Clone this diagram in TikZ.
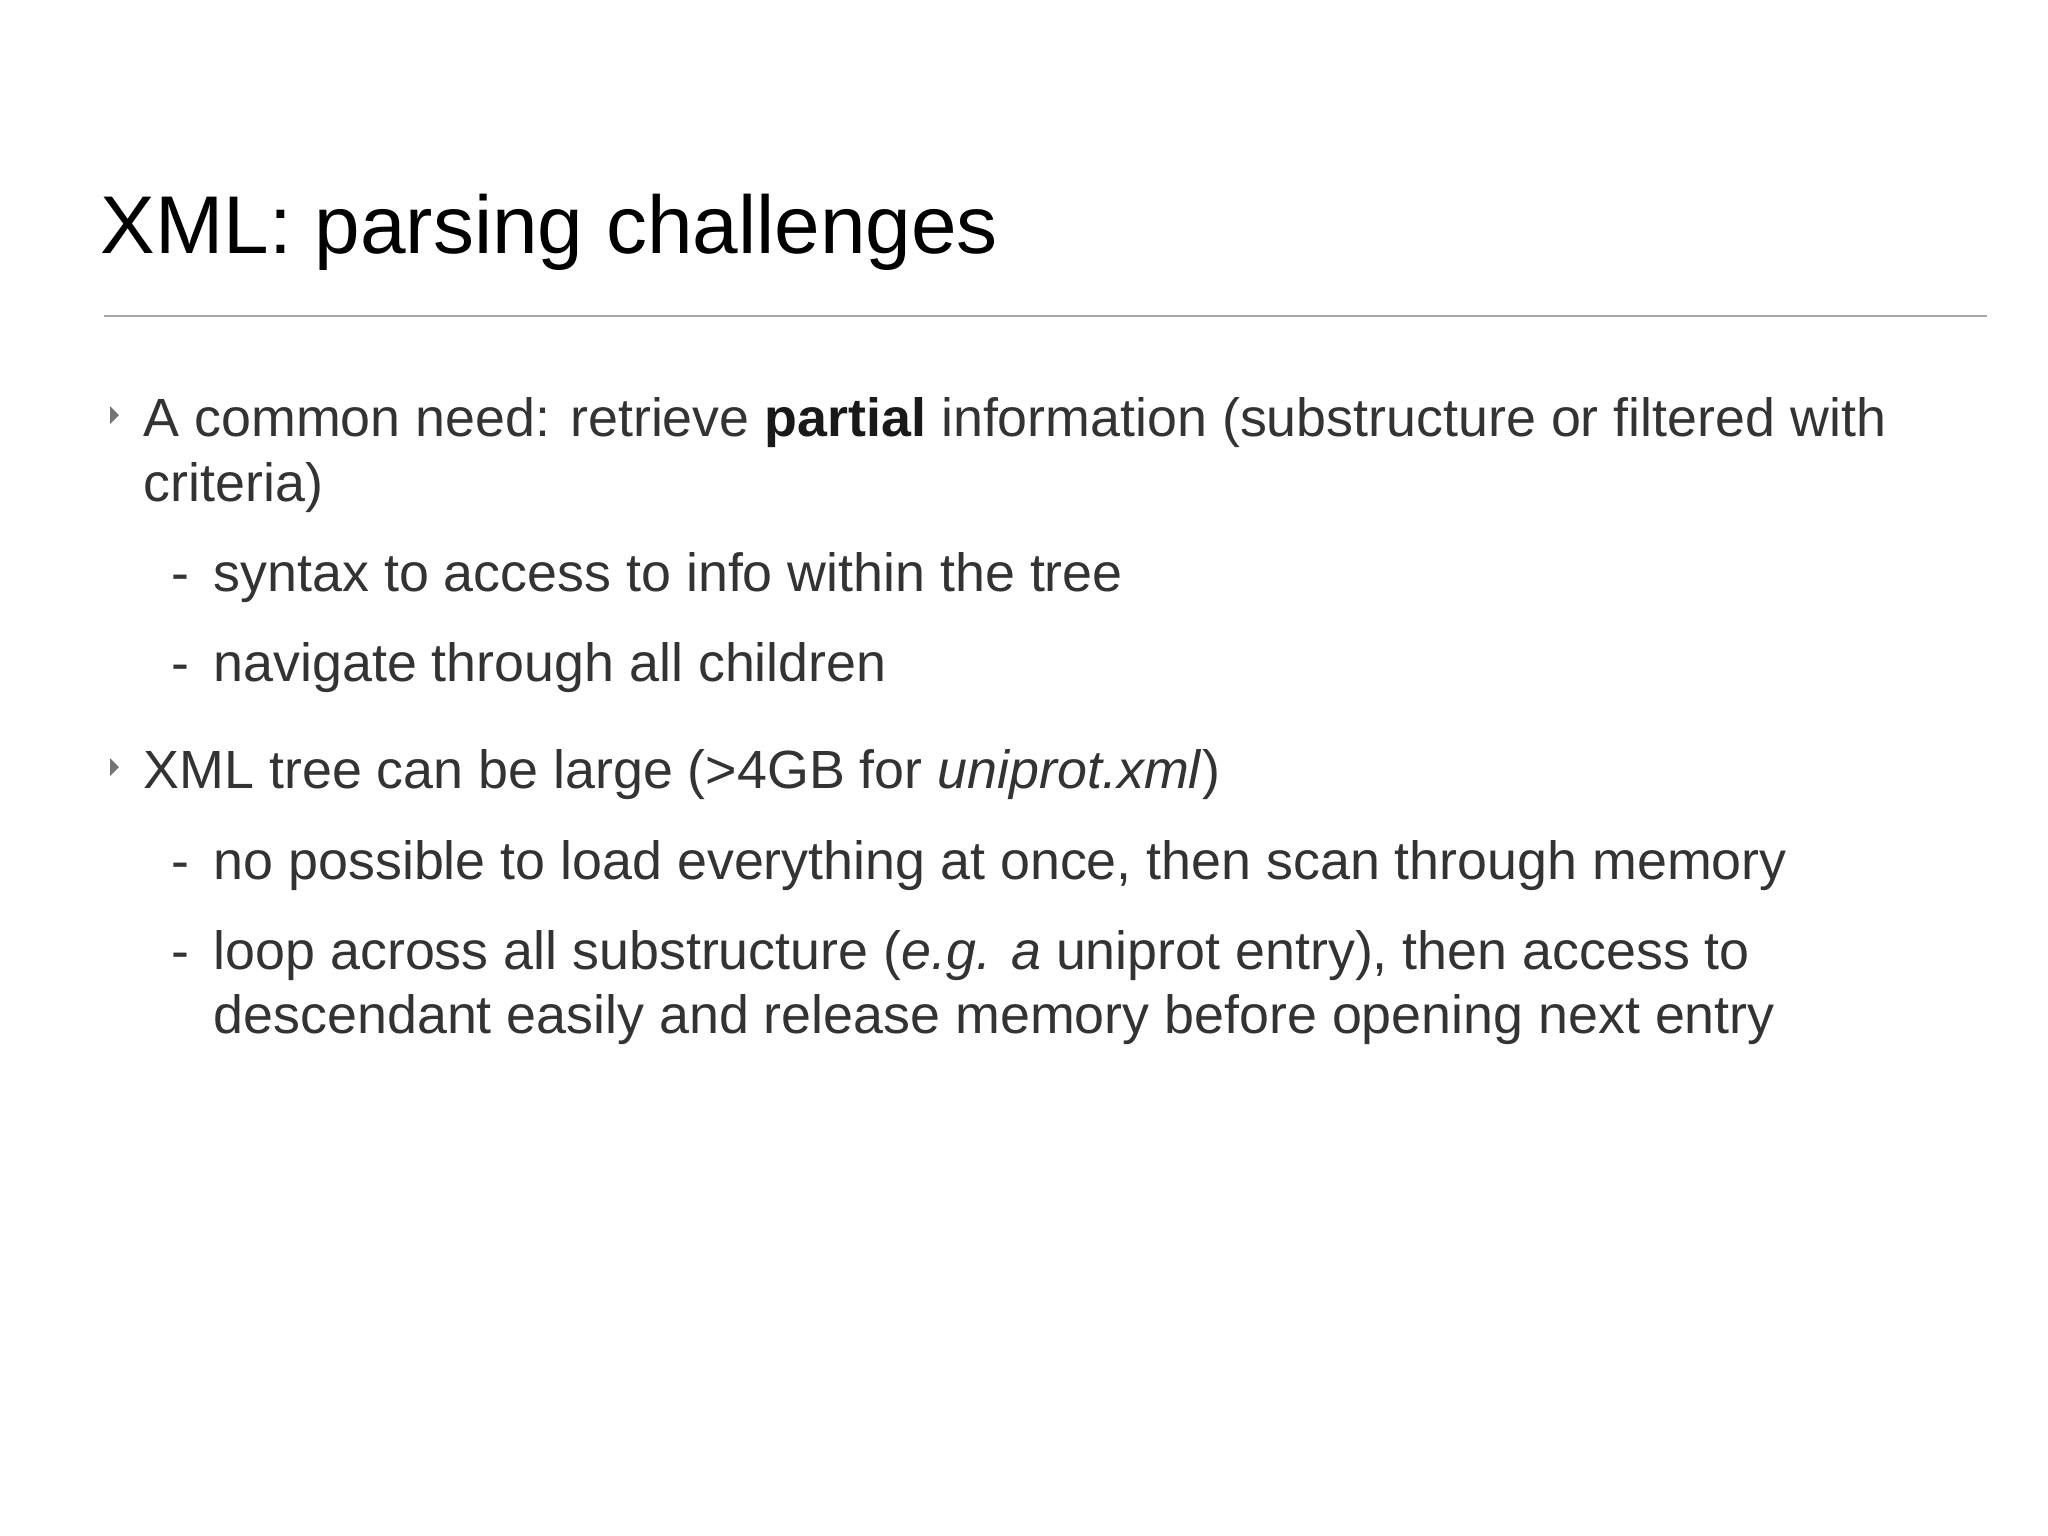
\documentclass[tikz,border=0pt]{standalone}
\usepackage{fontspec}
\setmainfont{Liberation Sans}
\begin{document}
\begin{tikzpicture}[x=0.01cm,y=-0.01cm,
  body/.style={anchor=base west,inner sep=0,text=black!80,font=\fontsize{15.3}{18}\selectfont},
  tri/.style={fill=black!55,draw=none}]
\useasboundingbox (0,0) rectangle (2048,1536);
\node[anchor=base west,inner sep=0,font=\fontsize{23.3}{28}\selectfont] (title) at (100,253) {XML: parsing challenges};
\coordinate (r1) at (104,316); \coordinate (r2) at (1987,316);
\draw[black!35,line width=0.8pt] (r1) -- (r2);
\fill[tri] (110,406) -- (119,415) -- (110,424) -- cycle;
\node[body] (a) at (143,436) {A common need: retrieve {\bfseries\color{black!90}partial} information (substructure or filtered with};
\node[body] (a2) at (143,501) {criteria)};
\node[body] (d1) at (171,591) {-};
\node[body] (s1) at (213,591) {syntax to access to info within the tree};
\node[body] (d2) at (171,681) {-};
\node[body] (s2) at (213,681) {navigate through all children};
\fill[tri] (110,758) -- (119,767) -- (110,776) -- cycle;
\node[body] (b) at (143,788) {XML tree can be large (>4GB for \textit{uniprot.xml})};
\node[body] (d3) at (171,879) {-};
\node[body] (s3) at (213,879) {no possible to load everything at once, then scan through memory};
\node[body] (d4) at (171,969) {-};
\node[body] (s4) at (213,969) {loop across all substructure (\textit{e.g. a} uniprot entry), then access to};
\node[body] (s5) at (213,1033) {descendant easily and release memory before opening next entry};
\end{tikzpicture}
\end{document}
